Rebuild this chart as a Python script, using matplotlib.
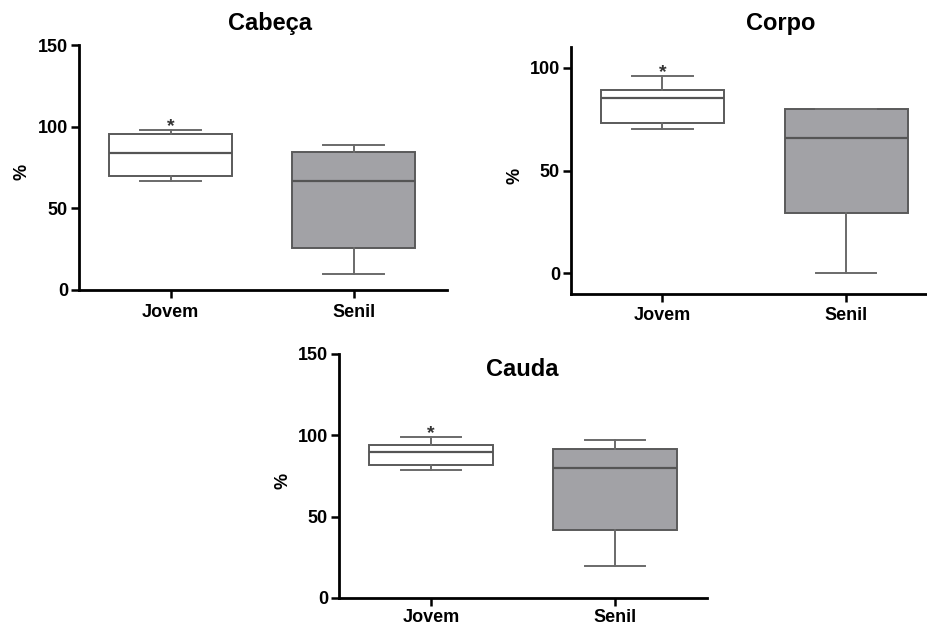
import matplotlib
matplotlib.use("Agg")
import matplotlib.pyplot as plt

plt.rcParams['font.family'] = ['Liberation Sans', 'DejaVu Sans']
plt.rcParams['font.weight'] = 'bold'

groups = ["Jovem", "Senil"]

# five-number summaries per region: (min, q1, median, q3, max)
cabeca_jovem = (66.7, 69.8, 83.7, 95.5, 98.0)
cabeca_senil = (9.6, 25.5, 66.7, 84.5, 88.8)
corpo_jovem = (70.0, 72.9, 85.3, 88.9, 95.9)
corpo_senil = (0.0, 29.2, 65.9, 79.8, 79.8)
cauda_jovem = (78.8, 81.6, 90.0, 93.9, 98.8)
cauda_senil = (19.6, 41.7, 80.0, 91.8, 97.0)

titles = ["Cabeça", "Corpo", "Cauda"]
significant = ["Jovem"]

W, H = 927, 626
fig = plt.figure(figsize=(W / 100, H / 100), dpi=100)


def axes_px(left, right, top, bottom):
    return fig.add_axes([left / W, 1 - bottom / H, (right - left) / W, (bottom - top) / H])


def stats_of(label, s):
    lo, q1, med, q3, hi = s
    return dict(label=label, whislo=lo, q1=q1, med=med, q3=q3, whishi=hi, fliers=[])


def draw_panel(ax, data, ylim, yticks, xlim, xpad=4, star_drop=3.0):
    stats = [stats_of(g, d) for g, d in zip(groups, data)]
    fills = ["white", "#a2a2a6"]
    bp = ax.bxp(stats, positions=[1, 2], widths=0.67, patch_artist=True,
                showfliers=False, capwidths=0.33)
    for i, box in enumerate(bp["boxes"]):
        box.set_facecolor(fills[i])
        box.set_edgecolor("#5a5a5a")
        box.set_linewidth(1.4)
    for ln in bp["whiskers"] + bp["caps"]:
        ln.set_color("#6a6a6a")
        ln.set_linewidth(1.4)
    for ln in bp["medians"]:
        ln.set_color("#555555")
        ln.set_linewidth(1.6)
    for g, d, x in zip(groups, data, [1, 2]):
        if g in significant:
            ax.text(x, d[4] - star_drop, "*", ha="center", va="bottom", fontsize=14,
                    color="#333333", fontweight="bold")
    ax.set_xlim(*xlim)
    ax.set_ylim(*ylim)
    ax.set_yticks(yticks)
    ax.set_xticks([1, 2])
    ax.set_xticklabels(groups, fontsize=13, fontweight="bold")
    ax.tick_params(axis="y", labelsize=13, length=6, width=1.8, direction="out", pad=2)
    ax.tick_params(axis="x", length=6, width=1.8, direction="out", pad=xpad)
    for lab in ax.get_yticklabels():
        lab.set_fontweight("bold")
    for s in ["top", "right"]:
        ax.spines[s].set_visible(False)
    for s in ["left", "bottom"]:
        ax.spines[s].set_linewidth(2.0)
    ax.set_ylabel("%", fontsize=13, fontweight="bold")
    bb = ax.get_position()
    ax.yaxis.set_label_coords(-48 / (bb.width * W), 0.48)
    ax.patch.set_alpha(0)


ax1 = axes_px(79, 447, 45, 290)
draw_panel(ax1, [cabeca_jovem, cabeca_senil], (0, 150), [0, 50, 100, 150], (0.5, 2.51))
fig.text(270 / W, 1 - 30 / H, titles[0], ha="center", va="baseline", fontsize=17, fontweight="bold")

ax2 = axes_px(571, 927, 47, 294)
draw_panel(ax2, [corpo_jovem, corpo_senil], (-10, 110), [0, 50, 100], (0.503, 2.44),
           xpad=3, star_drop=2.5)
fig.text(781 / W, 1 - 30 / H, titles[1], ha="center", va="baseline", fontsize=17, fontweight="bold")

ax3 = axes_px(339, 707, 354, 598)
draw_panel(ax3, [cauda_jovem, cauda_senil], (0, 150), [0, 50, 100, 150], (0.5, 2.5),
           xpad=2)
fig.text(522 / W, 1 - 376 / H, titles[2], ha="center", va="baseline", fontsize=17, fontweight="bold")

fig.savefig("out.png", dpi=100, facecolor="white")
